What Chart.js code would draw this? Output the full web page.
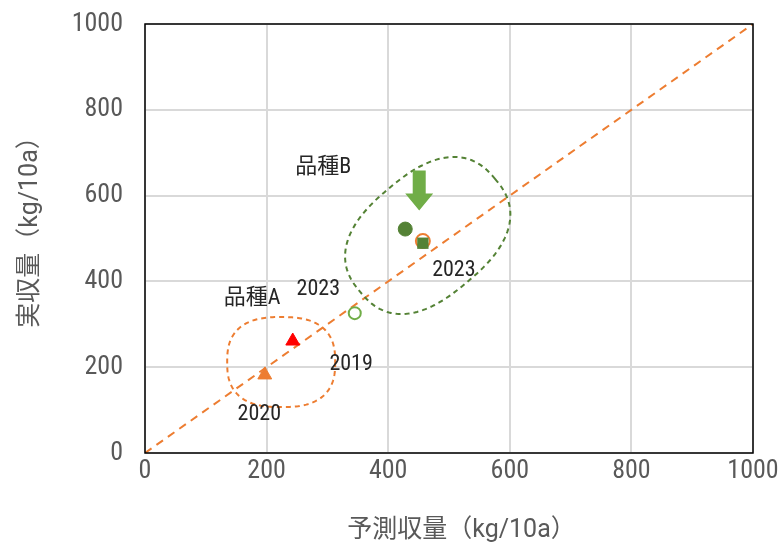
<!DOCTYPE html>
<html>
<head>
<meta charset="utf-8">
<script src="https://cdn.jsdelivr.net/npm/chart.js@4"></script>
<style>
  html, body { margin: 0; padding: 0; background: #fff; }
  #wrap { width: 783px; height: 546px; }
</style>
</head>
<body>
<div id="wrap"><canvas id="grafico"></canvas></div>
<script>
const variedadeA2019 = [{ x: 243, y: 261 }];
const variedadeA2020 = [{ x: 197, y: 182 }];
const variedadeA2023 = [{ x: 345, y: 326 }];
const variedadeB2023Real = [{ x: 428, y: 522 }];
const variedadeB2023Quad = [{ x: 457, y: 489 }];
const variedadeB2023Ref = [{ x: 457, y: 494 }];
const linha1a1 = [{ x: 0, y: 0 }, { x: 1000, y: 1000 }];
const ticksEixo = [0, 200, 400, 600, 800, 1000];

const rotulos = [
  { texto: '品種B', x: 293, y: 665 },
  { texto: '品種A', x: 176, y: 360 },
  { texto: '2023', x: 285, y: 380 },
  { texto: '2019', x: 339, y: 207 },
  { texto: '2020', x: 188, y: 90 },
  { texto: '2023', x: 508, y: 425 }
];

const fonteNum = '"Roboto Condensed", "Noto Sans CJK JP", sans-serif';
const fonteTitulo = 'Roboto, "Noto Sans CJK JP", sans-serif';

// contornos tracejados e seta
const desenhosExtras = {
  id: 'desenhosExtras',
  afterDatasetsDraw(chart) {
    const ctx = chart.ctx;
    const sx = chart.scales.x, sy = chart.scales.y;

    function contorno(cx, cy, rx, ry, ang, n, cor) {
      const px = sx.getPixelForValue(cx), py = sy.getPixelForValue(cy);
      ctx.save();
      ctx.translate(px, py);
      ctx.rotate(ang);
      ctx.beginPath();
      for (let i = 0; i <= 200; i++) {
        const t = i / 200 * Math.PI * 2;
        const c = Math.cos(t), s = Math.sin(t);
        const xx = rx * Math.sign(c) * Math.pow(Math.abs(c), 2 / n);
        const yy = ry * Math.sign(s) * Math.pow(Math.abs(s), 2 / n);
        if (i === 0) ctx.moveTo(xx, yy); else ctx.lineTo(xx, yy);
      }
      ctx.closePath();
      ctx.strokeStyle = cor;
      ctx.lineWidth = 2;
      ctx.setLineDash([5, 4]);
      ctx.stroke();
      ctx.restore();
    }

    contorno(224, 212, 54, 45, 0, 2.6, '#ed7d31');
    contorno(465, 507, 88, 61, -0.7, 2.5, '#548235');

    // seta
    const ax = sx.getPixelForValue(451);
    const ay = sy.getPixelForValue(565);
    ctx.save();
    ctx.fillStyle = '#70ad47';
    ctx.beginPath();
    ctx.moveTo(ax, ay);
    ctx.lineTo(ax - 14, ay - 17);
    ctx.lineTo(ax - 6.5, ay - 17);
    ctx.lineTo(ax - 6.5, ay - 40);
    ctx.lineTo(ax + 6.5, ay - 40);
    ctx.lineTo(ax + 6.5, ay - 17);
    ctx.lineTo(ax + 14, ay - 17);
    ctx.closePath();
    ctx.fill();
    ctx.restore();

    // rótulos
    ctx.save();
    ctx.fillStyle = '#262626';
    ctx.font = '22px ' + fonteNum;
    ctx.textAlign = 'center';
    ctx.textBaseline = 'middle';
    rotulos.forEach(r => {
      ctx.fillText(r.texto, sx.getPixelForValue(r.x), sy.getPixelForValue(r.y));
    });
    ctx.restore();

    // moldura
    const a = chart.chartArea;
    ctx.save();
    ctx.strokeStyle = '#000';
    ctx.lineWidth = 1.5;
    ctx.strokeRect(a.left, a.top, a.right - a.left, a.bottom - a.top);
    ctx.restore();
  }
};

const ctx = document.getElementById('grafico').getContext('2d');
new Chart(ctx, {
  type: 'scatter',
  data: {
    datasets: [
      {
        label: '品種B 2023 sq',
        data: variedadeB2023Quad,
        pointStyle: 'rect',
        pointRadius: 8,
        backgroundColor: '#548235',
        borderColor: '#548235',
        borderWidth: 0
      },
      {
        label: '品種B 2023 ref',
        data: variedadeB2023Ref,
        pointStyle: 'circle',
        pointRadius: 7,
        backgroundColor: '#ffffff',
        borderColor: '#ed7d31',
        borderWidth: 2
      },
      {
        label: '品種B 2023',
        data: variedadeB2023Real,
        pointStyle: 'circle',
        pointRadius: 7,
        backgroundColor: '#548235',
        borderColor: '#548235'
      },
      {
        label: '品種A 2023',
        data: variedadeA2023,
        pointStyle: 'circle',
        pointRadius: 6,
        backgroundColor: '#ffffff',
        borderColor: '#70ad47',
        borderWidth: 2
      },
      {
        label: '品種A 2020',
        data: variedadeA2020,
        pointStyle: 'triangle',
        pointRadius: 8,
        backgroundColor: '#ed7d31',
        borderColor: '#ed7d31'
      },
      {
        label: '品種A 2019',
        data: variedadeA2019,
        pointStyle: 'triangle',
        pointRadius: 8,
        backgroundColor: '#ff0000',
        borderColor: '#ff0000'
      },
      {
        label: '1:1',
        data: linha1a1,
        showLine: true,
        borderColor: '#ed7d31',
        borderWidth: 2,
        borderDash: [8, 6],
        pointRadius: 0,
        fill: false
      }
    ]
  },
  options: {
    responsive: true,
    maintainAspectRatio: false,
    animation: false,
    layout: { padding: { top: 24, right: 30, left: 0, bottom: 0 } },
    plugins: {
      legend: { display: false },
      tooltip: { enabled: false }
    },
    scales: {
      x: {
        type: 'linear',
        min: 0,
        max: 1000,
        afterBuildTicks: s => { s.ticks = ticksEixo.map(v => ({ value: v })); },
        afterFit: s => { s.height = 93; s.paddingLeft = 0; s.paddingRight = 0; },
        grid: { color: '#d9d9d9', lineWidth: 2, drawTicks: false },
        border: { display: false },
        ticks: {
          color: '#595959',
          font: { family: fonteNum, size: 26 },
          padding: 3,
          maxRotation: 0,
          callback: v => String(v)
        },
        title: {
          display: true,
          text: '\u3000予測収量（kg/10a）',
          color: '#595959',
          font: { family: fonteTitulo, size: 25 },
          padding: { top: 0, bottom: 0 }
        }
      },
      y: {
        type: 'linear',
        min: 0,
        max: 1000,
        afterBuildTicks: s => { s.ticks = ticksEixo.map(v => ({ value: v })); },
        afterFit: s => { s.width = 145; s.paddingTop = 0; s.paddingBottom = 0; },
        grid: { color: '#d9d9d9', lineWidth: 2, drawTicks: false },
        border: { display: false },
        ticks: {
          color: '#595959',
          font: { family: fonteNum, size: 26 },
          padding: 22,
          callback: v => String(v)
        },
        title: {
          display: true,
          text: '\u3000実収量（kg/10a）',
          color: '#595959',
          font: { family: fonteTitulo, size: 25 },
          padding: { top: 16, bottom: 0 }
        }
      }
    }
  },
  plugins: [desenhosExtras]
});
</script>
</body>
</html>
